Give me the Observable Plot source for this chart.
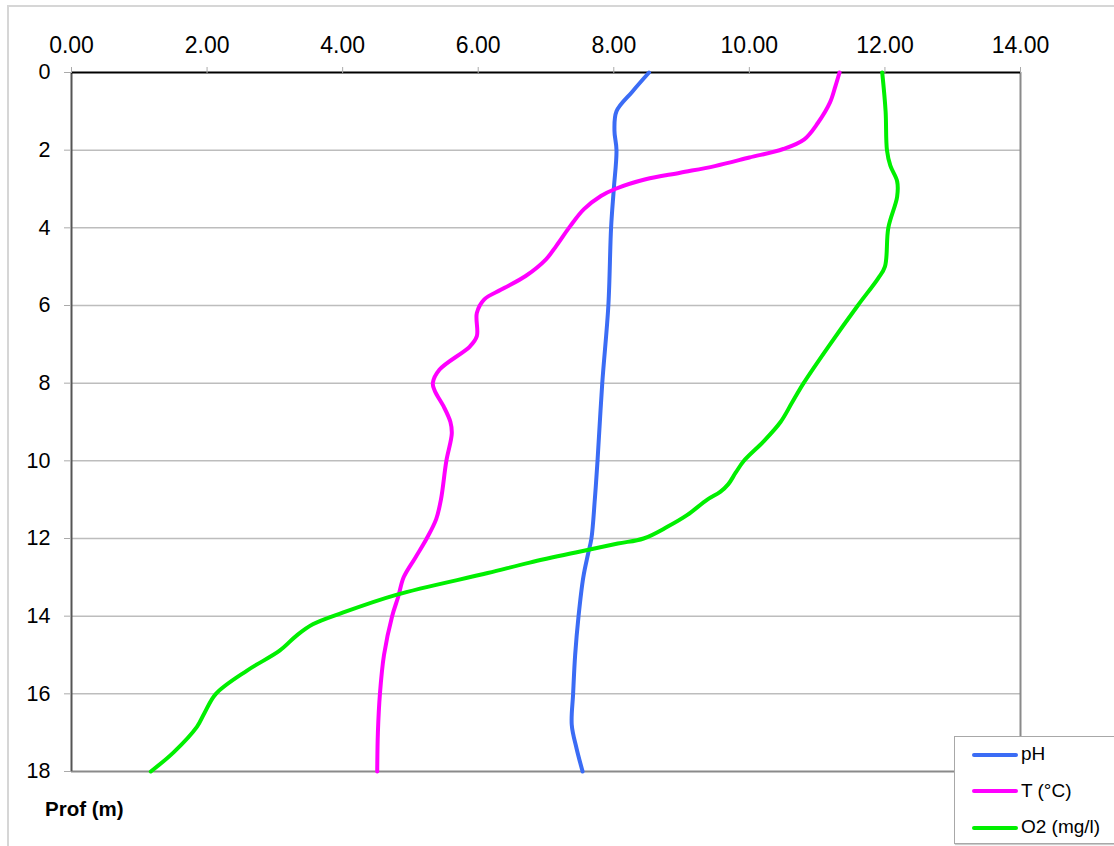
<!DOCTYPE html>
<html>
<head>
<meta charset="utf-8">
<script src="https://cdn.jsdelivr.net/npm/d3@7"></script>
<script src="https://cdn.jsdelivr.net/npm/@observablehq/plot@0.6"></script>
<style>
  html, body { margin: 0; padding: 0; background: #fff; }
  #wrap { position: relative; width: 1114px; height: 846px; overflow: hidden; font-family: "Liberation Sans", Arial, sans-serif; }
  #frame { position: absolute; left: 7px; top: 5px; width: 1300px; height: 1000px; border-left: 2px solid #d6d6d6; border-top: 2px solid #d6d6d6; }
  #chart { position: absolute; left: 0; top: 0; }
  #ylab { position: absolute; left: 45px; top: 797px; font-weight: bold; font-size: 20.5px; color: #000; }
  #legend { position: absolute; left: 954px; top: 736px; width: 170px; height: 106px; border: 1px solid #a8a8a8; background: #fff; box-shadow: 1px 1px 1px #ccc; }
  .item { position: absolute; left: 17px; height: 20px; font-size: 19px; line-height: 20px; color: #000; }
  .item .sw { display: inline-block; width: 46px; height: 4px; vertical-align: middle; margin-right: 3px; border-radius: 2px; }
</style>
</head>
<body>
<div id="wrap">
  <div id="frame"></div>
  <div id="chart"></div>
  <div id="ylab">Prof (m)</div>
  <div id="legend"></div>
</div>
<script>
// Tick values
const xTicks = [0, 2, 4, 6, 8, 10, 12, 14];
const yTicks = [0, 2, 4, 6, 8, 10, 12, 14, 16, 18];
const gridDepths = [2, 4, 6, 8, 10, 12, 14, 16];

// Series names and colours
const seriesNames = ["pH", "T (°C)", "O2 (mg/l)"];
const seriesColors = ["#3b6cf5", "#ff00ff", "#00ef00"];

// pH profile
const phDepth = [0, 0.5, 1, 1.5, 2, 3, 4, 6, 8, 10, 11, 12, 12.4, 13, 14, 15, 16, 16.8, 17.4, 18];
const phValue = [8.52, 8.27, 8.04, 8.01, 8.04, 8.0, 7.96, 7.92, 7.83, 7.76, 7.72, 7.67, 7.62, 7.55, 7.48, 7.43, 7.40, 7.38, 7.45, 7.54];

// Temperature profile
const tDepth = [0, 0.35, 0.77, 1.3, 1.72, 1.97, 2.19, 2.41, 2.58, 2.75, 3.0, 3.18, 3.52, 3.95, 4.47, 4.81, 5.24, 5.59, 5.84, 6.19, 6.79, 7.05, 7.65, 8.0, 8.2, 8.6, 9.0, 9.3, 10, 11, 11.5, 12, 12.5, 13, 13.5, 14, 15, 16, 17, 18];
const tValue = [11.33, 11.27, 11.19, 11.01, 10.81, 10.50, 10.0, 9.49, 8.98, 8.47, 8.02, 7.81, 7.56, 7.36, 7.15, 7.0, 6.70, 6.34, 6.09, 5.98, 5.98, 5.88, 5.43, 5.33, 5.36, 5.49, 5.59, 5.61, 5.53, 5.45, 5.38, 5.24, 5.07, 4.90, 4.82, 4.73, 4.61, 4.55, 4.52, 4.51];

// Dissolved oxygen profile
const o2Depth = [0, 1, 2, 2.4, 2.8, 3.2, 4, 5, 5.3, 6, 7, 8, 8.5, 9, 9.5, 10, 10.3, 10.6, 10.8, 11, 11.4, 11.7, 12, 12.13, 12.34, 12.62, 12.89, 13.45, 13.91, 14.21, 14.5, 14.89, 15.4, 16, 16.5, 16.85, 17.5, 18];
const o2Value = [11.96, 12.01, 12.03, 12.08, 12.18, 12.18, 12.05, 12.0, 11.9, 11.6, 11.19, 10.80, 10.63, 10.46, 10.21, 9.92, 9.80, 9.69, 9.57, 9.38, 9.08, 8.79, 8.44, 8.06, 7.49, 6.76, 6.14, 4.79, 4.0, 3.56, 3.32, 3.07, 2.59, 2.13, 1.96, 1.85, 1.51, 1.17];

const profiles = [
  {name: seriesNames[0], depth: phDepth, value: phValue},
  {name: seriesNames[1], depth: tDepth, value: tValue},
  {name: seriesNames[2], depth: o2Depth, value: o2Value}
];
const rows = profiles.flatMap(p => p.depth.map((d, i) => ({series: p.name, depth: d, value: p.value[i]})));

const chart = Plot.plot({
  width: 1114,
  height: 846,
  marginLeft: 71,
  marginRight: 94,
  marginTop: 72,
  marginBottom: 75,
  style: {fontFamily: "'Liberation Sans', Arial, sans-serif", fontSize: "21px", color: "#000", background: "transparent"},
  x: {domain: [0, 14]},
  y: {domain: [0, 18], reverse: true},
  color: {domain: seriesNames, range: seriesColors},
  marks: [
    Plot.ruleY(gridDepths, {stroke: "#bdbdbd", strokeWidth: 1.5}),
    Plot.ruleY([18], {stroke: "#8a8a8a", strokeWidth: 2}),
    Plot.ruleX([14], {stroke: "#8a8a8a", strokeWidth: 2}),
    Plot.ruleX([0], {stroke: "#555", strokeWidth: 2}),
    Plot.ruleY([0], {stroke: "#000", strokeWidth: 2}),
    Plot.axisX({anchor: "top", ticks: xTicks, tickFormat: d => d.toFixed(2), tickSize: 6, tickPadding: 14, label: null, stroke: "#aaa", fontSize: 23}),
    Plot.axisY({anchor: "left", ticks: yTicks, tickFormat: d => String(d), tickSize: 7, tickPadding: 14, label: null, stroke: "#aaa", fontSize: 21.5}),
    Plot.line(rows, {x: "value", y: "depth", z: "series", stroke: "series", curve: "catmull-rom", strokeWidth: 4, strokeLinejoin: "round", strokeLinecap: "round"})
  ]
});
document.getElementById("chart").appendChild(chart);

// Legend
const legend = document.getElementById("legend");
seriesNames.forEach((name, i) => {
  const item = document.createElement("div");
  item.className = "item";
  item.style.top = (7 + i * 36.5) + "px";
  const sw = document.createElement("span");
  sw.className = "sw";
  sw.style.background = seriesColors[i];
  item.appendChild(sw);
  item.appendChild(document.createTextNode(name));
  legend.appendChild(item);
});
</script>
</body>
</html>
